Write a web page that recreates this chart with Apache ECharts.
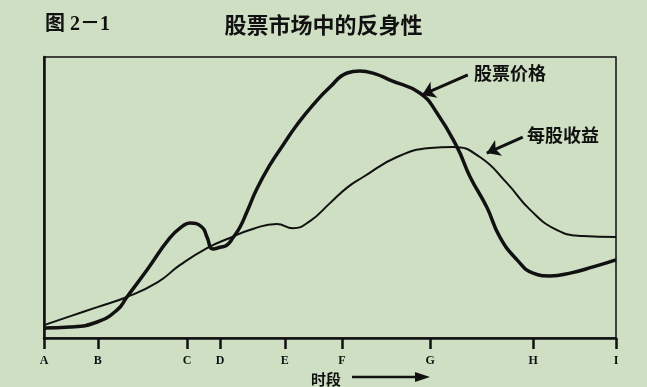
<!DOCTYPE html>
<html>
<head>
<meta charset="utf-8">
<script src="https://cdn.jsdelivr.net/npm/echarts@6/dist/echarts.min.js"></script>
<style>
html,body{margin:0;padding:0;background:#cfdfc3;}
#c{width:647px;height:387px;}
</style>
</head>
<body>
<div id="c"></div>
<script>
// Time positions of the labelled periods A..I (0..100 time scale)
const tickTimes = [0, 9.4, 25, 30.8, 42.1, 52.1, 67.5, 85.5, 100];
const tickLabels = ['A', 'B', 'C', 'D', 'E', 'F', 'G', 'H', 'I'];

// Stock price (thick curve): [time, level]
const priceData = [
  [0, 3.6], [4.5, 3.9], [9.3, 5.7], [12.8, 10.0], [14.5, 14.6], [18.0, 24.2],
  [22.0, 35.6], [24.3, 39.9], [25.5, 40.9], [27.6, 39.5], [28.5, 35.9],
  [29.5, 31.7], [30.8, 32.3], [32.0, 33.1], [33.0, 35.6], [34.3, 39.6],
  [35.5, 45.0], [37.2, 53.0], [39.5, 61.6], [41.8, 68.7], [44.2, 75.8],
  [47.0, 82.9], [50.0, 89.3], [53.0, 94.3], [55.2, 95.0], [57.9, 94.0],
  [60.5, 91.8], [65.7, 87.2], [68.7, 80.1], [72.2, 68.0], [74.5, 57.3],
  [77.4, 46.6], [79.7, 35.9], [82.7, 27.8], [85.5, 23.1], [88.5, 22.1],
  [92.0, 23.1], [96.0, 25.3], [100, 27.8]
];

// Earnings per share (thin curve): [time, level]
const epsData = [
  [0, 4.6], [4.5, 7.7], [9.3, 11.0], [14.5, 14.6], [19.9, 19.9], [23.8, 26.0],
  [28.5, 32.0], [32.5, 35.6], [36.5, 38.8], [40.7, 40.6], [43.5, 39.1],
  [46.5, 41.6], [50.0, 48.0], [53.1, 53.7], [55.8, 57.3], [61.7, 64.4],
  [67.5, 67.6], [71.5, 68.0], [76.2, 64.4], [80.9, 55.2], [85.0, 45.6],
  [89.7, 38.4], [94.2, 36.3], [100, 35.9]
];

// Annotation arrows: [from, to] in data coordinates
const priceArrow = [[74.1, 93.6], [66.1, 86.5]];
const epsArrow = [[83.7, 71.5], [77.4, 65.8]];

const seriesNames = ['股票价格', '每股收益'];

const ink = '#111';
const cjk = '"Noto Sans CJK SC", "Noto Sans", sans-serif';

const chart = echarts.init(document.getElementById('c'));
chart.setOption({
  backgroundColor: '#cfdfc3',
  animation: false,
  title: [
    { text: '图 2－1', left: 40, top: 10,
      textStyle: { fontSize: 20, fontWeight: 'bold', color: ink, fontFamily: '"Liberation Serif", "Noto Sans CJK SC", serif' } },
    { text: '股票市场中的反身性', left: 'center', top: 9,
      textStyle: { fontSize: 22, fontWeight: 'bold', color: ink, fontFamily: cjk } }
  ],
  grid: { left: 44, right: 31, top: 57, bottom: 49, show: true, containLabel: false,
          outerBoundsMode: 'none',
          borderColor: ink, borderWidth: 1.5, backgroundColor: 'transparent' },
  xAxis: {
    type: 'value', min: 0, max: 100,
    name: '时段', nameLocation: 'middle', nameGap: 27,
    nameTextStyle: { fontSize: 15, fontWeight: 'bold', color: ink, fontFamily: cjk, padding: [0, 8, 0, 0] },
    axisLine: { show: true, lineStyle: { color: ink, width: 2.5 } },
    axisTick: { show: true, customValues: tickTimes, length: 11, lineStyle: { color: ink, width: 2.5 } },
    axisLabel: { customValues: tickTimes, margin: 17,
      formatter: v => { const i = tickTimes.findIndex(t => Math.abs(t - v) < 1e-6); return i >= 0 ? tickLabels[i] : ''; },
      fontSize: 12, fontWeight: 'bold', color: ink, fontFamily: '"Liberation Serif", serif' },
    splitLine: { show: false }
  },
  yAxis: {
    type: 'value', min: 0, max: 100,
    axisLine: { show: true, lineStyle: { color: ink, width: 2.5 } },
    axisTick: { show: false }, axisLabel: { show: false }, splitLine: { show: false }
  },
  series: [
    {
      name: seriesNames[0], type: 'line', data: priceData, smooth: 0.5,
      showSymbol: false, lineStyle: { color: ink, width: 3.5 },
      markLine: {
        silent: true, symbol: ['none', 'arrow'], symbolSize: 13,
        lineStyle: { color: ink, width: 3, type: 'solid' }, label: { show: false },
        data: [[{ coord: priceArrow[0] }, { coord: priceArrow[1] }]]
      }
    },
    {
      name: seriesNames[1], type: 'line', data: epsData, smooth: 0.5,
      showSymbol: false, lineStyle: { color: ink, width: 2 },
      markLine: {
        silent: true, symbol: ['none', 'arrow'], symbolSize: 13,
        lineStyle: { color: ink, width: 3, type: 'solid' }, label: { show: false },
        data: [[{ coord: epsArrow[0] }, { coord: epsArrow[1] }]]
      }
    }
  ],
  graphic: [
    { type: 'text', left: 474, top: 64,
      style: { text: seriesNames[0], fontSize: 18, fontWeight: 'bold', fill: ink, fontFamily: cjk } },
    { type: 'text', left: 527, top: 126,
      style: { text: seriesNames[1], fontSize: 18, fontWeight: 'bold', fill: ink, fontFamily: cjk } },
    { type: 'line', shape: { x1: 352, y1: 377, x2: 420, y2: 377 }, style: { stroke: ink, lineWidth: 2.5 } },
    { type: 'polygon', shape: { points: [[415, 372], [430, 377], [415, 382]] }, style: { fill: ink } }
  ]
});
</script>
</body>
</html>
